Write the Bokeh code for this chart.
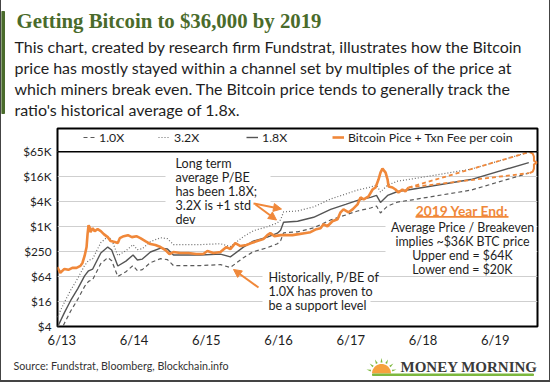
import math
import pandas as pd
from bokeh.plotting import figure
from bokeh.layouts import column, row
from bokeh.models import (Range1d, FixedTicker, Label, BoxAnnotation, Span, Spacer,
                          Arrow, NormalHead, Legend, LegendItem)
from bokeh.embed import file_html
from bokeh.resources import INLINE

# ---------------- data ----------------
price_dates = [
    "2013-05-09", "2013-05-24", "2013-06-14", "2013-07-04", "2013-07-24", "2013-08-14",
    "2013-09-03", "2013-09-13", "2013-09-24", "2013-10-04", "2013-10-09", "2013-10-14",
    "2013-10-19", "2013-10-24", "2013-11-04", "2013-11-14", "2013-11-29", "2013-12-15",
    "2013-12-30", "2014-01-19", "2014-02-03", "2014-02-24", "2014-03-11", "2014-03-21",
    "2014-04-10", "2014-05-01", "2014-05-21", "2014-06-13", "2014-07-03", "2014-07-28",
    "2014-08-23", "2014-09-17", "2014-10-13", "2014-11-07", "2014-11-27", "2014-12-17",
    "2015-01-22", "2015-03-03", "2015-04-12", "2015-05-17", "2015-06-07", "2015-07-07",
    "2015-08-12", "2015-09-11", "2015-10-01", "2015-10-26", "2015-11-21", "2015-12-21",
    "2016-01-15", "2016-02-14", "2016-03-16", "2016-04-05", "2016-04-20", "2016-05-11",
    "2016-06-11", "2016-07-11", "2016-08-10", "2016-09-10", "2016-10-10", "2016-11-09",
    "2016-12-09", "2016-12-30", "2017-01-14", "2017-02-03", "2017-02-28", "2017-03-26",
    "2017-04-10", "2017-04-25", "2017-05-21", "2017-06-10", "2017-07-05", "2017-07-20",
    "2017-08-05", "2017-08-30", "2017-09-19", "2017-10-04", "2017-10-19", "2017-10-29",
    "2017-11-08", "2017-11-24", "2017-12-04", "2017-12-09", "2017-12-29", "2018-01-13",
    "2018-01-28", "2018-02-17", "2018-03-04", "2018-03-20",
]
price_values = [
    109, 79, 98, 93, 104, 104,
    116, 136, 201, 330, 675, 1108,
    993, 753, 940, 797, 890, 797,
    675, 572, 459, 434, 411, 541,
    604, 639, 572, 604, 541, 459,
    389, 368, 330, 279, 224, 250,
    237, 237, 224, 224, 264, 237,
    250, 330, 295, 411, 348, 368,
    411, 459, 512, 639, 713, 604,
    639, 639, 639, 675, 713, 753,
    890, 940, 1170, 1048, 1381, 1543,
    2268, 2677, 2268, 2677, 3527, 5190,
    4650, 5480, 8060, 9000, 14000, 20600,
    25700, 20600, 14000, 9530, 9000, 8060,
    6840, 8060, 7220, 9000,
]

breakeven_dates = [
    "2013-05-09", "2013-06-14", "2013-07-15", "2013-08-20", "2013-09-24", "2013-10-14",
    "2013-11-04", "2013-12-15", "2014-01-19", "2014-02-08", "2014-03-11", "2014-04-21",
    "2014-05-27", "2014-06-18", "2014-07-13", "2014-08-23", "2014-10-13", "2014-11-17",
    "2014-12-17", "2015-05-03", "2015-08-12", "2015-10-01", "2015-12-06", "2016-01-25",
    "2016-04-05", "2016-05-26", "2016-06-11", "2016-06-26", "2016-09-05", "2016-11-25",
    "2017-02-19", "2017-05-06", "2017-07-05", "2017-09-09", "2017-10-09", "2017-10-29",
    "2017-12-04", "2018-01-24", "2018-03-31", "2019-01-29", "2019-11-18",
]
breakeven_values = [
    2.1, 4.8, 9.3, 18, 37, 49,
    54, 132, 183, 155, 64, 84,
    118, 89, 94, 139, 173, 164,
    118, 118, 124, 106, 183, 255,
    318, 396, 468, 726, 767, 957,
    1487, 1959, 2444, 2883, 3217, 2189,
    3217, 4011, 4478, 7778, 20000,
]
multiple_support = 1.0
multiple_average = 1.8
multiple_upper = 3.2

proj_start_date = "2018-03-20"
proj_start_value = 9000
proj_end_date = "2019-11-18"
proj_upper_value = 64000
proj_lower_value = 20000
proj_mid_value = 36000

y_ticks = [4, 16, 64, 256, 1024, 4096, 16384, 65536]
y_tick_labels = ["$4", "$16", "$64", "$250", "$1K", "$4K", "$16K", "$65K"]
x_tick_dates = ["2013-06-01", "2014-06-01", "2015-06-01", "2016-06-01",
                "2017-06-01", "2018-06-01", "2019-06-01"]
x_tick_labels = ["6/13", "6/14", "6/15", "6/16", "6/17", "6/18", "6/19"]

title_text = "Getting Bitcoin to $36,000 by 2019"
body_lines = ["This chart, created by research firm Fundstrat, illustrates how the Bitcoin",
              "price has mostly stayed within a channel set by multiples of the price at",
              "which miners break even. The Bitcoin price tends to generally track the",
              "ratio's historical average of 1.8x."]
source_text = "Source: Fundstrat, Bloomberg, Blockchain.info"

# ---------------- layout constants (page pixels) ----------------
W = 548                       # figure width (1px page border each side)
H_HEAD, H_MAIN, H_FOOT = 127, 223, 30
FL, FR, FT, FBM = 56, 12, 1, 22
FRAME_LEFT, FRAME_BOTTOM = 57, 328
LEGEND_BAND = 0.932           # legend row above $65K, in factors of 4
SANS = "Lato"
SERIF = "Liberation Serif"
ORANGE = "#F0883A"
TEXT = "#1e1e1e"
GREEN = "#4a6b2b"
LOGO_GREEN = "#7DB83E"
BORDER = "#444444"


def fx(x):  # page px -> main-frame screen x
    return x - FRAME_LEFT


def fy(y):  # page px -> main-frame screen y (from frame bottom, upward)
    return FRAME_BOTTOM - y


def d(s):
    return pd.Timestamp(s)


def canvas_fig(h, y0):
    f = figure(width=W, height=h, x_range=Range1d(1, W + 1), y_range=Range1d(y0 + h, y0),
               min_border=0, x_axis_location=None, y_axis_location=None,
               toolbar_location=None, tools="", output_backend="svg",
               background_fill_color="white", border_fill_color="white")
    f.outline_line_color = None
    f.grid.visible = False
    f.frame_align = False
    return f


def ctext(f, x, y, text, size, color=TEXT, align="left", font=SANS, style="normal"):
    f.add_layout(Label(x=x, y=y, text=text, text_font=font,
                       text_font_size=f"{size}px", text_color=color, text_align=align,
                       text_baseline="middle", text_font_style=style))


# ---------------- header ----------------
head = canvas_fig(H_HEAD, 0)
head.quad(left=[1], right=[4], top=[11], bottom=[113], color=GREEN)
ctext(head, 16, 19.5, title_text, 20.8, color=GREEN, font=SERIF, style="bold")
for i, line in enumerate(body_lines):
    ctext(head, 14, 46 + 21 * i, line, 16)

# ---------------- main chart ----------------
p = figure(width=W, height=H_MAIN, x_axis_type="datetime", y_axis_type="log",
           x_range=Range1d(d("2013-05-10"), d("2020-01-01")),
           y_range=Range1d(y_ticks[0], y_ticks[-1] * 4 ** LEGEND_BAND),
           output_backend="svg", toolbar_location=None, tools="",
           min_border_left=FL, min_border_right=FR, min_border_top=FT, min_border_bottom=FBM,
           background_fill_color="white", border_fill_color="white")
p.frame_align = False
p.outline_line_color = "black"
p.outline_line_width = 2
p.xgrid.visible = False
p.ygrid.ticker = FixedTicker(ticks=y_ticks)
p.ygrid.grid_line_color = "#cfcfcf"
p.ygrid.grid_line_width = 1

yax = p.yaxis[0]
yax.ticker = FixedTicker(ticks=y_ticks)
yax.major_label_overrides = {t: l for t, l in zip(y_ticks, y_tick_labels)}
x_tick_ms = [d(s).value // 10**6 for s in x_tick_dates]
xax = p.xaxis[0]
xax.ticker = FixedTicker(ticks=x_tick_ms)
xax.major_label_overrides = {t: l for t, l in zip(x_tick_ms, x_tick_labels)}
for ax, size, standoff in ((yax, "11.8px", 6), (xax, "13px", 5)):
    ax.axis_line_color = None
    ax.major_tick_line_color = None
    ax.minor_tick_line_color = None
    ax.major_tick_out = 0
    ax.major_label_standoff = standoff
    ax.major_label_text_font = SANS
    ax.major_label_text_font_size = size
    ax.major_label_text_color = TEXT


def sbox(x0, y0, x1, y1, fill=None, level="annotation"):
    p.add_layout(BoxAnnotation(
        left=fx(x0), right=fx(x1), top=fy(y0), bottom=fy(y1),
        left_units="screen", right_units="screen", top_units="screen", bottom_units="screen",
        fill_color=fill, fill_alpha=1.0, line_color=None, level=level))


def label(x, y, text, size, color=TEXT, align="left", font=SANS, style="normal"):
    p.add_layout(Label(x=fx(x), y=fy(y), x_units="screen", y_units="screen", text=text,
                       text_font=font, text_font_size=f"{size}px", text_color=color,
                       text_align=align, text_baseline="middle", text_font_style=style))


# white boxes behind the notes (they interrupt the grid lines)
sbox(165, 156, 270, 226, fill="white", level="underlay")
sbox(262, 271, 370, 315, fill="white", level="underlay")
sbox(385, 204, 536, 277, fill="white", level="underlay")

# legend row separator
p.add_layout(Span(location=y_ticks[-1], dimension="width", line_color="black", line_width=1.5))

be_x = pd.to_datetime(breakeven_dates)
r_low = p.line(be_x, [v * multiple_support for v in breakeven_values],
               line_color="#5a5a5a", line_width=1.2, line_dash="4 3")
r_high = p.line(be_x, [v * multiple_upper for v in breakeven_values],
                line_color="#6a6a6a", line_width=1.2, line_dash="1 2")
r_avg = p.line(be_x, [v * multiple_average for v in breakeven_values],
               line_color="#555555", line_width=1.4)
for target in (proj_upper_value, proj_lower_value):
    p.line([d(proj_start_date), d(proj_end_date)], [proj_start_value, target],
           line_color=ORANGE, line_width=1.8, line_dash="4 3")
r_price = p.line(pd.to_datetime(price_dates), price_values, line_color=ORANGE, line_width=2.6)

# bracket around the projected range
bx = [d("2019-11-22"), d("2019-12-08"), d("2019-12-14"), d("2019-12-14"), d("2019-12-30"),
      d("2019-12-14"), d("2019-12-14"), d("2019-12-08"), d("2019-11-22")]
by = [proj_upper_value, proj_upper_value * 0.92, proj_upper_value * 0.78, proj_mid_value * 1.1,
      proj_mid_value, proj_mid_value / 1.1, proj_lower_value / 0.78, proj_lower_value / 0.92,
      proj_lower_value]
p.line(bx, by, line_color=ORANGE, line_width=2)

# legend: one entry per position, as in the picture
legend_entries = [("1.0X", r_low, 83), ("3.2X", r_high, 158), ("1.8X", r_avg, 246),
                  ("Bitcoin Pice + Txn Fee per coin", r_price, 332)]
for text, rend, gx in legend_entries:
    p.add_layout(Legend(items=[LegendItem(label=text, renderers=[rend])],
                        location=(fx(gx), fy(139.5) - 7),
                        border_line_color=None, background_fill_alpha=0.0, padding=0, margin=0,
                        glyph_width=12, glyph_height=14, label_height=14, label_standoff=4,
                        label_text_font=SANS, label_text_font_size="12.3px",
                        label_text_color=TEXT))

note1 = ["Long term", "average P/BE", "has been 1.8X;", "3.2X is +1 std", "dev"]
for i, line in enumerate(note1):
    label(175, 165 + 13.9 * i, line, 12.6)
note2 = ["Historically, P/BE of", "1.0X has proven to", "be a support level"]
for i, line in enumerate(note2):
    label(268, 279 + 14 * i, line, 12.6)
label(461.5, 212, "2019 Year End:", 13.8, color=ORANGE, align="center", style="bold")
sbox(415, 217.6, 508, 219.2, fill=ORANGE)
note3 = ["Average Price / Breakeven", "implies ~$36K BTC price", "Upper end = $64K",
         "Lower end = $20K"]
for i, line in enumerate(note3):
    label(462, 229 + 13.9 * i, line, 12.4, align="center")

arrow_head = dict(size=8, fill_color=ORANGE, line_color=ORANGE)
for (x0, y0, x1, y1) in ((253, 205, 281, 210.5), (255, 206, 276, 221.5), (258, 289, 233, 271)):
    p.add_layout(Arrow(x_start=fx(x0), y_start=fy(y0), x_end=fx(x1), y_end=fy(y1),
                       start_units="screen", end_units="screen", line_color=ORANGE,
                       line_width=2, end=NormalHead(**arrow_head)))

# ---------------- footer ----------------
foot = canvas_fig(H_FOOT, H_HEAD + H_MAIN)
ctext(foot, 13, 365, source_text, 10.7, color="#333333")
cxs, cys, r = 381, 373, 9.5
foot.patch([cxs + r * math.cos(math.pi * k / 20) for k in range(21)],
           [cys - r * math.sin(math.pi * k / 20) for k in range(21)],
           fill_color="#F6A23E", line_color=None)
ray_xs, ray_ys = [], []
for ang in (15, 40, 65, 90, 115, 140, 165):
    a = math.radians(ang)
    ca, sa = math.cos(a), math.sin(a)
    r0, r1 = 11, 15.5
    ray_xs.append([cxs + r0 * ca - sa, cxs + r1 * ca, cxs + r0 * ca + sa])
    ray_ys.append([cys - r0 * sa - ca, cys - r1 * sa, cys - r0 * sa + ca])
foot.patches(ray_xs, ray_ys, fill_color=LOGO_GREEN, line_color=None)
ctext(foot, 400, 366, "MONEY MORNING", 15, color="#3a3a3a", font=SERIF, style="bold")
foot.quad(left=[372], right=[533], top=[373.5], bottom=[375], color=LOGO_GREEN)

# ---------------- page with its thin border ----------------
inner = column(head, p, foot, spacing=0)
body = row(Spacer(width=1, height=H_HEAD + H_MAIN + H_FOOT, styles={"background-color": BORDER}),
           inner,
           Spacer(width=1, height=H_HEAD + H_MAIN + H_FOOT, styles={"background-color": BORDER}),
           spacing=0)
page = column(body, Spacer(width=W + 2, height=2, styles={"background-color": BORDER}), spacing=0)

open("out.html", "w").write(file_html(page, INLINE))
